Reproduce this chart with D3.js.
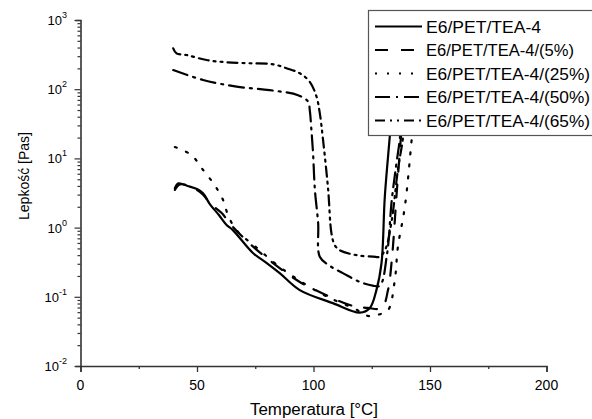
<!DOCTYPE html>
<html>
<head>
<meta charset="utf-8">
<script src="https://cdn.jsdelivr.net/npm/d3@7"></script>
<style>
  body { margin: 0; background: #fff; }
  text { font-family: Arial, "Liberation Sans", sans-serif; fill: #000; }
</style>
</head>
<body>
<div id="chart"></div>
<script>
// series labels (legend order)
var seriesNames = ["E6/PET/TEA-4", "E6/PET/TEA-4/(5%)", "E6/PET/TEA-4/(25%)", "E6/PET/TEA-4/(50%)", "E6/PET/TEA-4/(65%)"]

// E6/PET/TEA-4
var tempBase = [40.5, 42, 46, 50, 52.6, 55.5, 59.4, 62.7, 65.4, 74, 79.8, 85.5, 94.1, 108.3, 119.9, 124.2, 127, 129.2, 130.6, 132.7, 134.5]
var viscBase = [3.7, 4.36, 4.0, 3.6, 3.13, 2.19, 1.52, 1.09, 0.92, 0.43, 0.31, 0.22, 0.125, 0.081, 0.059, 0.069, 0.125, 0.31, 2.77, 20, 100]

// 5%
var temp5 = [40.5, 42.7, 48, 52.6, 55.5, 60.6, 64, 72.3, 82.5, 94.1, 104.4, 115.6, 123.3, 129.3, 132, 133.6, 135.8, 137.5, 139]
var visc5 = [3.5, 4.2, 3.8, 3.0, 2.26, 1.62, 1.16, 0.6, 0.31, 0.164, 0.11, 0.076, 0.069, 0.069, 0.126, 0.34, 3.5, 20, 100]

// 25%
var temp25 = [40.5, 47.6, 52.6, 57.6, 61.2, 63.3, 66.9, 74.8, 85.5, 96.3, 107, 117.8, 123.3, 128.5, 132, 134.9, 136.2, 139.2, 142.2, 144]
var visc25 = [14.6, 11.2, 6.8, 4.1, 2.5, 1.52, 0.92, 0.54, 0.27, 0.153, 0.096, 0.067, 0.053, 0.056, 0.064, 0.175, 0.52, 2.0, 20, 100]

// 50%
var temp50 = [39.8, 52.6, 67, 81.2, 93.4, 97.7, 98.4, 99.1, 99.8, 100.6, 102, 102.7, 107, 112.6, 119.9, 125.4, 128.5, 131.5, 133.6, 135.5, 137.1, 138.5]
var visc50 = [189, 136, 109, 97, 82, 66, 50, 25.8, 12, 3.5, 1.16, 0.38, 0.28, 0.22, 0.164, 0.145, 0.145, 0.4, 2.5, 8, 20, 100]

// 65%
var temp65 = [39.8, 41.2, 45.5, 54.1, 62.7, 72.7, 82.7, 88.4, 94.1, 98.4, 101.3, 102.7, 104.1, 106.3, 107.7, 109.1, 111.3, 118.5, 125.6, 128.5, 131, 133.6, 136.2, 138.4, 140]
var visc65 = [390, 330, 312, 264, 245, 237, 229, 201, 170, 128, 78, 45, 18.5, 3.5, 0.83, 0.56, 0.47, 0.40, 0.38, 0.38, 0.5, 1.29, 6.8, 20, 100]

var xTicks = [0, 50, 100, 150, 200]
var yDecades = [-2, -1, 0, 1, 2, 3]

var width = 592
var height = 419

var temps = [tempBase, temp5, temp25, temp50, temp65]
var viscs = [viscBase, visc5, visc25, visc50, visc65]
var dashes = ["none", "13,13", "2,10", "15,6,2,6", "10,5,2,5,2,5"]

var series = seriesNames.map(function(name, i) {
  return { name: name, dash: dashes[i], points: temps[i].map(function(t, j) { return [t, viscs[i][j]] }) }
})

var svg = d3.select("#chart")
  .append("svg")
    .attr("width", width)
    .attr("height", height)

var x = d3.scaleLinear().domain([0, 200]).range([80.5, 546.5])
var y = d3.scaleLog().domain([1e-2, 1e3]).range([366, 20])

var line = d3.line()
  .x(function(d) { return x(d[0]) })
  .y(function(d) { return y(d[1]) })
  .curve(d3.curveCatmullRom.alpha(0.5))

svg.selectAll("path.curve")
  .data(series)
  .enter()
  .append("path")
    .attr("class", "curve")
    .attr("d", function(d) { return line(d.points) })
    .attr("fill", "none")
    .attr("stroke", "#000")
    .attr("stroke-width", 2.2)
    .attr("stroke-linecap", "round")
    .attr("stroke-dasharray", function(d) { return d.dash })

// x axis
var xAxis = svg.append("g")
  .attr("transform", "translate(0,366)")
  .call(d3.axisBottom(x).tickValues(d3.range(0, 201, 25)).tickSize(6).tickFormat(""))
xAxis.select(".domain").attr("stroke", "#333").attr("stroke-width", 1.6)
xAxis.selectAll(".tick line")
  .attr("stroke", "#333")
  .attr("stroke-width", 1.3)
  .attr("y2", function(d) { return d % 50 === 0 ? 6 : 3 })

svg.selectAll("text.xlab")
  .data(xTicks)
  .enter()
  .append("text")
    .attr("class", "xlab")
    .attr("x", function(d) { return x(d) })
    .attr("y", 390)
    .attr("text-anchor", "middle")
    .style("font-size", "14px")
    .text(function(d) { return d })

// y axis
var minorTicks = []
yDecades.forEach(function(p) {
  for (var k = 1; k < 10; k++) {
    var v = k * Math.pow(10, p)
    if (v <= 1e3) minorTicks.push(v)
  }
})
var yAxis = svg.append("g")
  .attr("transform", "translate(80.5,0)")
  .call(d3.axisLeft(y).tickValues(minorTicks).tickSize(5).tickFormat(""))
yAxis.select(".domain").attr("stroke", "#333").attr("stroke-width", 1.6)
yAxis.selectAll(".tick line")
  .attr("stroke", "#333")
  .attr("stroke-width", 1.2)
  .attr("x2", function(d) { return Math.abs(Math.log10(d) - Math.round(Math.log10(d))) < 1e-9 ? -6 : -3 })

var ylab = svg.selectAll("text.ylab")
  .data(yDecades)
  .enter()
  .append("text")
    .attr("class", "ylab")
    .attr("x", 60)
    .attr("y", function(d) { return y(Math.pow(10, d)) + 5 })
    .attr("text-anchor", "end")
    .style("font-size", "13px")
ylab.append("tspan").text("10")
ylab.append("tspan")
  .attr("dy", -7)
  .style("font-size", "9px")
  .text(function(d) { return d < 0 ? "-" + Math.abs(d) : d })
ylab.attr("x", 67)

// axis titles
svg.append("text")
  .attr("x", 314)
  .attr("y", 415)
  .attr("text-anchor", "middle")
  .attr("textLength", 128)
  .attr("lengthAdjust", "spacingAndGlyphs")
  .style("font-size", "16px")
  .text("Temperatura [°C]")

svg.append("text")
  .attr("transform", "translate(29,176) rotate(-90)")
  .attr("text-anchor", "middle")
  .style("font-size", "14px")
  .text("Lepkość [Pas]")

// legend (opaque, covers curve tops)
var legend = svg.append("g")
legend.append("rect")
  .attr("x", 368.5)
  .attr("y", 10.5)
  .attr("width", 240)
  .attr("height", 125)
  .attr("fill", "#fff")
  .attr("stroke", "#555")
  .attr("stroke-width", 1.2)

var rows = legend.selectAll("g.row")
  .data(series)
  .enter()
  .append("g")
    .attr("class", "row")
    .attr("transform", function(d, i) { return "translate(0," + (26.5 + i * 23.5) + ")" })
rows.append("line")
  .attr("x1", 375)
  .attr("x2", 422)
  .attr("stroke", "#000")
  .attr("stroke-width", 2.2)
  .attr("stroke-dasharray", function(d) { return d.dash })
rows.append("text")
  .attr("x", 426)
  .attr("y", 6)
  .style("font-size", "16px")
  .attr("textLength", function(d) { return d.name.length > 12 ? (d.name.indexOf("(5%") > 0 ? 148 : 164) : 115 })
  .attr("lengthAdjust", "spacingAndGlyphs")
  .text(function(d) { return d.name })
</script>
</body>
</html>
